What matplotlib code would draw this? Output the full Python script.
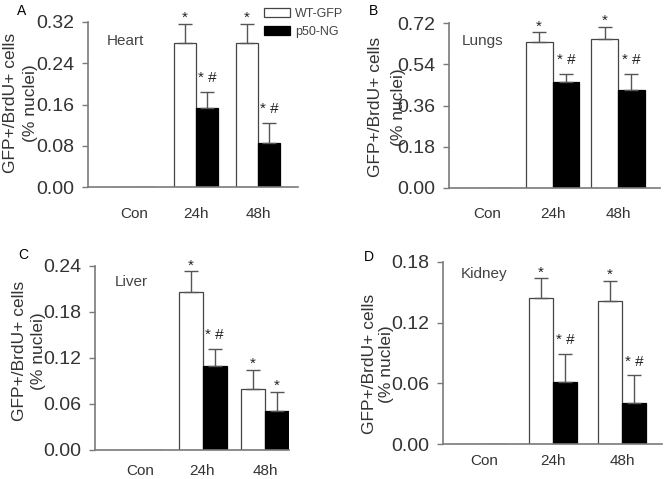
import numpy as np
import matplotlib
matplotlib.use("Agg")
import matplotlib.pyplot as plt
from matplotlib.patches import Patch

plt.rcParams['font.family'] = ['Liberation Sans', 'DejaVu Sans']

categories = ['Con', '24h', '48h']
series_names = ['WT-GFP', 'p50-NG']

# Panel A - Heart
heart_wt = [0.0, 0.280, 0.279]
heart_wt_err = [0.0, 0.037, 0.037]
heart_p50 = [0.0, 0.154, 0.085]
heart_p50_err = [0.0, 0.031, 0.039]
heart_ticks = [0.00, 0.08, 0.16, 0.24, 0.32]

# Panel B - Lungs
lungs_wt = [0.0, 0.637, 0.650]
lungs_wt_err = [0.0, 0.043, 0.055]
lungs_p50 = [0.0, 0.462, 0.428]
lungs_p50_err = [0.0, 0.035, 0.072]
lungs_ticks = [0.00, 0.18, 0.36, 0.54, 0.72]

# Panel C - Liver
liver_wt = [0.0, 0.206, 0.079]
liver_wt_err = [0.0, 0.027, 0.025]
liver_p50 = [0.0, 0.110, 0.051]
liver_p50_err = [0.0, 0.022, 0.025]
liver_ticks = [0.00, 0.06, 0.12, 0.18, 0.24]

# Panel D - Kidney
kidney_wt = [0.0, 0.144, 0.1415]
kidney_wt_err = [0.0, 0.0195, 0.0195]
kidney_p50 = [0.0, 0.061, 0.041]
kidney_p50_err = [0.0, 0.028, 0.027]
kidney_ticks = [0.00, 0.06, 0.12, 0.18]

heart_marks = [['', '*', '*'], ['', '* #', '* #']]
lungs_marks = [['', '*', '*'], ['', '* #', '* #']]
liver_marks = [['', '*', '*'], ['', '* #', '*']]
kidney_marks = [['', '*', '*'], ['', '* #', '* #']]

W, H = 671, 479
fig = plt.figure(figsize=(W / 100, H / 100), dpi=100)

TXT = '#333333'
SPINE = '#7a7a7a'


def px_axes(l, t, r, b):
    return fig.add_axes([l / W, 1 - b / H, (r - l) / W, (b - t) / H])


def panel(box, xlim, width, wt, wte, p50, p50e, ticks, marks, organ, organ_xy,
          letter, letter_xy, ylab_pos, xpad):
    ax = px_axes(*box)
    x = np.arange(len(categories))
    ax.bar(x - width / 2, wt, width, color='white', edgecolor='#444444',
           linewidth=0.9, zorder=2)
    ax.bar(x + width / 2, p50, width, color='black', edgecolor='black',
           linewidth=0.9, zorder=2)
    for xs, vals, errs, mk in ((x - width / 2, wt, wte, marks[0]),
                               (x + width / 2, p50, p50e, marks[1])):
        for xi, v, e, m in zip(xs, vals, errs, mk):
            if v <= 0:
                continue
            ax.errorbar([xi], [v], yerr=[[0], [e]], fmt='none', ecolor='#555555',
                        elinewidth=1.0, capsize=5, capthick=1.0, zorder=3)
            off = 1.5 if m == '*' else 7
            ax.annotate(m, xy=(xi, v + e), xytext=(0, off),
                        textcoords='offset points', ha='center', va='baseline',
                        fontsize=11, color='#222222')
    ax.set_xlim(*xlim)
    ax.set_ylim(ticks[0], ticks[-1])
    ax.set_yticks(ticks)
    ax.set_yticklabels([f'{t:.2f}' for t in ticks])
    ax.set_xticks(x)
    ax.set_xticklabels(categories)
    for s in ('top', 'right'):
        ax.spines[s].set_visible(False)
    for s in ('left', 'bottom'):
        ax.spines[s].set_color(SPINE)
        ax.spines[s].set_linewidth(1.2)
    ax.tick_params(axis='y', direction='out', length=4, width=1.0, color=SPINE,
                   labelsize=14, labelcolor=TXT, pad=6)
    ax.tick_params(axis='x', length=0, labelsize=11, labelcolor=TXT, pad=xpad)
    fig.text(organ_xy[0] / W, 1 - organ_xy[1] / H, organ, fontsize=11,
             color='#444444', ha='left', va='center')
    fig.text(letter_xy[0] / W, 1 - letter_xy[1] / H, letter, fontsize=10,
             color='black', ha='center', va='center')
    (x1, x2, yc) = ylab_pos
    fig.text(x1 / W, 1 - yc / H, 'GFP+/BrdU+ cells', rotation=90, fontsize=12.5,
             color=TXT, ha='center', va='center')
    fig.text(x2 / W, 1 - yc / H, '(% nuclei)', rotation=90, fontsize=12.5,
             color=TXT, ha='center', va='center')
    return ax


panel((88, 22, 298, 187), (-0.742, 2.645), 0.355,
      heart_wt, heart_wt_err, heart_p50, heart_p50_err, heart_ticks,
      heart_marks, 'Heart', (107, 41), 'A', (22, 11), (11, 30, 103), 14.4)
panel((449, 23.3, 660, 187.7), (-0.58, 2.64), 0.41,
      lungs_wt, lungs_wt_err, lungs_p50, lungs_p50_err, lungs_ticks,
      lungs_marks, 'Lungs', (462, 41), 'B', (374, 11), (375, 399, 107), 13.7)
panel((95, 266, 289, 450), (-0.72, 2.384), 0.384,
      liver_wt, liver_wt_err, liver_p50, liver_p50_err, liver_ticks,
      liver_marks, 'Liver', (115, 282), 'C', (23, 255), (20, 39, 351), 10)
panel((443, 261.7, 662, 444.3), (-0.594, 2.58), 0.348,
      kidney_wt, kidney_wt_err, kidney_p50, kidney_p50_err, kidney_ticks,
      kidney_marks, 'Kidney', (461, 274), 'D', (369, 257), (370, 386, 364), 7.2)

handles = [Patch(facecolor='white', edgecolor='#444444', linewidth=0.9),
           Patch(facecolor='black', edgecolor='black', linewidth=0.9)]
leg = fig.legend(handles, series_names, loc='upper left',
                 bbox_to_anchor=(264 / W, 1 - 8 / H), frameon=False,
                 fontsize=9, handlelength=2.1, handleheight=0.7,
                 handletextpad=0.4, labelspacing=0.45, borderpad=0,
                 borderaxespad=0)
for t in leg.get_texts():
    t.set_color('#444444')

fig.savefig('out.png', dpi=100)
